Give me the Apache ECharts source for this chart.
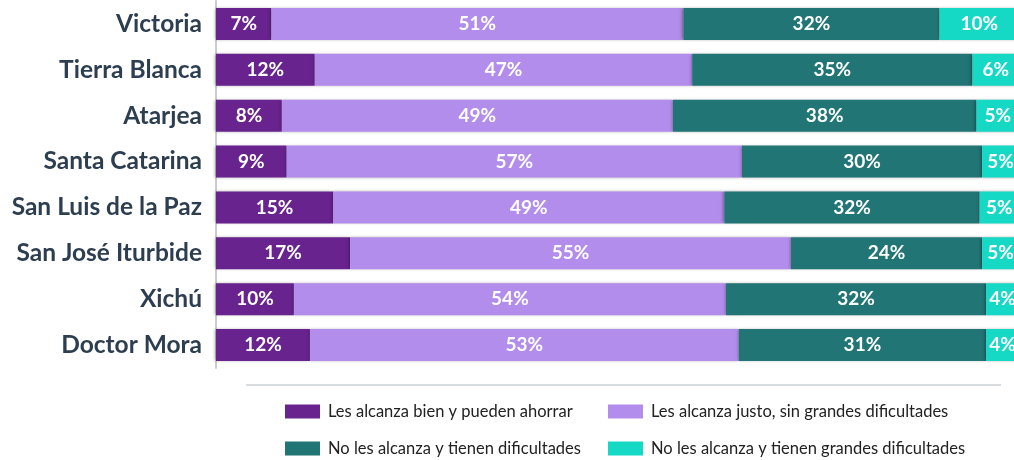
<!DOCTYPE html>
<html>
<head>
<meta charset="utf-8">
<script src="https://cdn.jsdelivr.net/npm/echarts@6/dist/echarts.min.js"></script>
<style>
html,body{margin:0;padding:0;background:#fff;}
#chart{width:1014px;height:460px;}
</style>
</head>
<body>
<div id="chart"></div>
<script>
const categories = ['Victoria','Tierra Blanca','Atarjea','Santa Catarina','San Luis de la Paz','San José Iturbide','Xichú','Doctor Mora'];
const seriesNames = ['Les alcanza bien y pueden ahorrar','Les alcanza justo, sin grandes dificultades','No les alcanza y tienen dificultades','No les alcanza y tienen grandes dificultades'];
const bienAhorrar   = [6.9, 12.3, 8.2, 8.8, 14.6, 16.7, 9.7, 11.7];
const justo         = [51.3, 47.0, 48.7, 56.7, 48.7, 54.9, 53.8, 53.4];
const dificultades  = [31.9, 34.9, 37.8, 29.9, 31.8, 23.8, 32.4, 30.8];
const grandesDific  = [9.9, 5.8, 5.3, 4.6, 4.9, 4.6, 4.1, 4.1];
const colors = ['#68238F','#B38DEB','#217575','#15D9C5'];

const FONT = 'Lato';
const dataSets = [bienAhorrar, justo, dificultades, grandesDific];

const series = dataSets.map((d, i) => ({
  name: seriesNames[i],
  type: 'bar',
  stack: 'total',
  barWidth: 32,
  data: d,
  itemStyle: {
    color: colors[i],
    shadowColor: 'rgba(0,0,0,0.35)',
    shadowBlur: 3,
    shadowOffsetX: -1
  },
  label: {
    show: true,
    position: 'inside',
    formatter: p => Math.round(p.value) + '%',
    color: '#ffffff',
    fontFamily: FONT,
    fontWeight: 'bold',
    fontSize: 19
  }
}));

const legendPos = [[285, 403], [608, 403], [285, 440], [608, 440]];
const legends = seriesNames.map((n, i) => ({
  data: [n],
  left: legendPos[i][0],
  top: legendPos[i][1],
  padding: 0,
  icon: 'rect',
  itemWidth: 35,
  itemHeight: 14,
  selectedMode: false,
  textStyle: {
    fontFamily: FONT,
    fontSize: 16.5,
    color: '#222222',
    padding: [0, 0, 0, 3]
  }
}));

const chart = echarts.init(document.getElementById('chart'), null, {renderer: 'canvas'});
chart.setOption({
  animation: false,
  color: colors,
  grid: {left: 216, width: 803, top: 1, height: 367, containLabel: false, outerBoundsMode: 'none'},
  xAxis: {type: 'value', min: 0, max: 100, show: false},
  yAxis: {
    type: 'category',
    inverse: true,
    data: categories,
    offset: 1,
    axisTick: {show: false},
    axisLine: {show: true, lineStyle: {color: '#c9cdd1', width: 2}},
    axisLabel: {
      margin: 13,
      fontFamily: FONT,
      fontWeight: 'bold',
      fontSize: 24.5,
      color: '#2c3e50'
    }
  },
  legend: legends,
  graphic: [{
    type: 'line',
    shape: {x1: 246, y1: 385, x2: 1001, y2: 385},
    style: {stroke: '#d9dcdf', lineWidth: 2}
  }],
  series: series
});
</script>
</body>
</html>
